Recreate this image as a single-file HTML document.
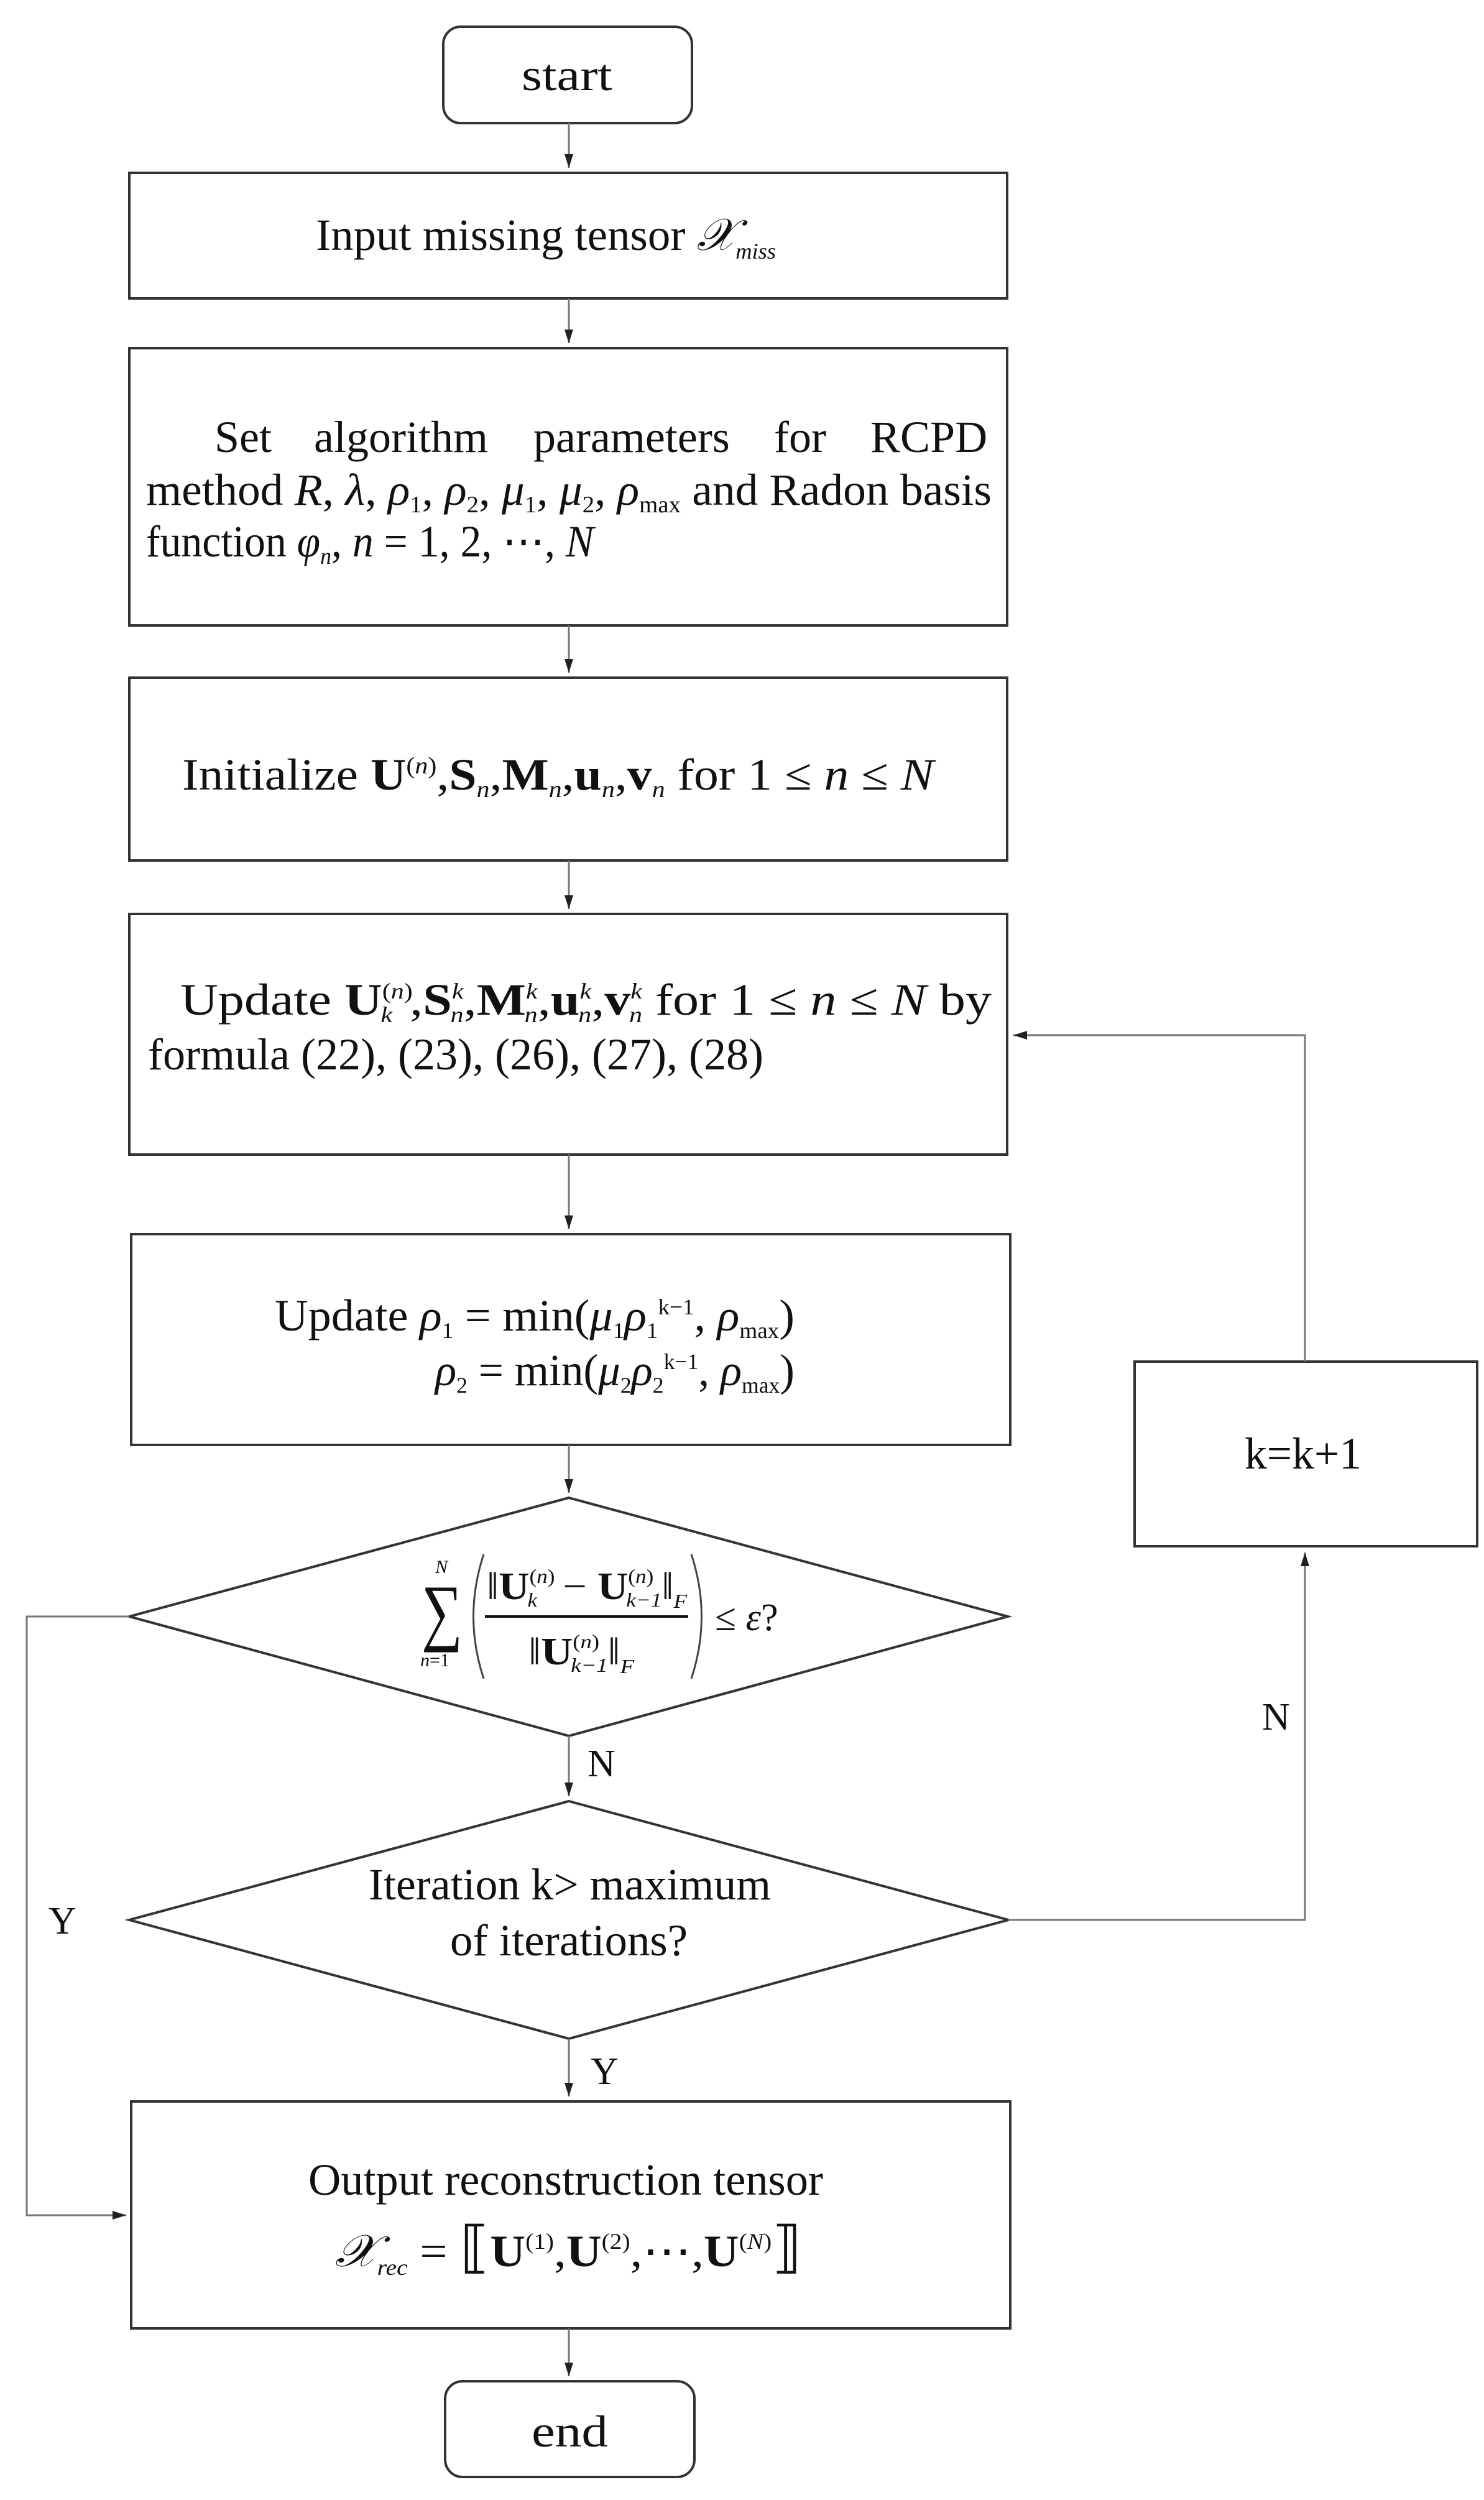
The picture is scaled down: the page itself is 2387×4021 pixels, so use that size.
<!DOCTYPE html>
<html><head><meta charset="utf-8"><style>
html,body{margin:0;padding:0;background:#fff;}
svg{display:block;}
text{font-family:"Liberation Serif",serif;fill:#111;}
.i{font-style:italic;}
.b{font-weight:bold;}
</style></head><body>
<svg width="2387" height="4021" viewBox="0 0 2387 4021" xmlns="http://www.w3.org/2000/svg">
<defs>
<marker id="h" markerWidth="24" markerHeight="20" refX="22" refY="10" orient="auto" markerUnits="userSpaceOnUse"><path d="M0,3 L22,10 L0,17 z" fill="#222"/></marker></defs>
<g fill="none" stroke="#333" stroke-width="4">
<rect x="713" y="43" width="400" height="155" rx="28"/>
<rect x="208" y="278" width="1412" height="202"/>
<rect x="208" y="560" width="1412" height="446"/>
<rect x="208" y="1090" width="1412" height="294"/>
<rect x="208" y="1470" width="1412" height="387"/>
<rect x="211" y="1985" width="1414" height="339"/>
<polygon points="915,2409 1621,2600 915,2792 208,2600"/>
<rect x="1825" y="2190" width="551" height="297"/>
<polygon points="915,2897 1622,3088 915,3279 208,3088"/>
<rect x="211" y="3380" width="1414" height="365"/>
<rect x="716" y="3830" width="401" height="154" rx="28"/>
</g>
<g fill="none" stroke="#777" stroke-width="3">
<line x1="915" y1="198" x2="915" y2="270" marker-end="url(#h)"/>
<line x1="915" y1="480" x2="915" y2="552" marker-end="url(#h)"/>
<line x1="915" y1="1006" x2="915" y2="1082" marker-end="url(#h)"/>
<line x1="915" y1="1384" x2="915" y2="1462" marker-end="url(#h)"/>
<line x1="915" y1="1857" x2="915" y2="1977" marker-end="url(#h)"/>
<line x1="915" y1="2324" x2="915" y2="2401" marker-end="url(#h)"/>
<line x1="915" y1="2792" x2="915" y2="2889" marker-end="url(#h)"/>
<line x1="915" y1="3279" x2="915" y2="3372" marker-end="url(#h)"/>
<line x1="915" y1="3745" x2="915" y2="3822" marker-end="url(#h)"/>
<polyline points="2099,2190 2099,1665 1630,1665" marker-end="url(#h)"/>
<polyline points="1622,3088 2099,3088 2099,2497" marker-end="url(#h)"/>
<polyline points="208,2600 43,2600 43,3563 203,3563" marker-end="url(#h)"/>
</g>
<g font-size="72">
<text x="839" y="145" textLength="146" lengthAdjust="spacingAndGlyphs">start</text>
<text x="855" y="3935" textLength="123" lengthAdjust="spacingAndGlyphs">end</text>
<text x="508" y="402" textLength="740" lengthAdjust="spacingAndGlyphs">Input missing tensor <tspan class="i" font-size="72">𝒳</tspan><tspan class="i" font-size="36" dy="14">miss</tspan></text>
<text x="345" y="727">Set</text>
<text x="505" y="727">algorithm</text>
<text x="858" y="727">parameters</text>
<text x="1245" y="727">for</text>
<text x="1400" y="727">RCPD</text>
<text x="235" y="812" textLength="1360" lengthAdjust="spacingAndGlyphs">method <tspan class="i">R</tspan>, <tspan class="i">λ</tspan>, <tspan class="i">ρ</tspan><tspan font-size="38" dy="12">1</tspan><tspan dy="-12">, </tspan><tspan class="i">ρ</tspan><tspan font-size="38" dy="12">2</tspan><tspan dy="-12">, </tspan><tspan class="i">μ</tspan><tspan font-size="38" dy="12">1</tspan><tspan dy="-12">, </tspan><tspan class="i">μ</tspan><tspan font-size="38" dy="12">2</tspan><tspan dy="-12">, </tspan><tspan class="i">ρ</tspan><tspan font-size="38" dy="12">max</tspan><tspan dy="-12"> and Radon basis</tspan></text>
<text x="235" y="895" textLength="720" lengthAdjust="spacingAndGlyphs">function <tspan class="i">φ</tspan><tspan class="i" font-size="38" dy="12">n</tspan><tspan dy="-12">, </tspan><tspan class="i">n</tspan> = 1, 2, ⋯, <tspan class="i">N</tspan></text>
<text x="293" y="1270" textLength="1209" lengthAdjust="spacingAndGlyphs">Initialize <tspan class="b">U</tspan><tspan font-size="38" dy="-26">(<tspan class="i">n</tspan>)</tspan><tspan dy="26">,</tspan><tspan class="b">S</tspan><tspan class="i" font-size="38" dy="12">n</tspan><tspan dy="-12">,</tspan><tspan class="b">M</tspan><tspan class="i" font-size="38" dy="12">n</tspan><tspan dy="-12">,</tspan><tspan class="b">u</tspan><tspan class="i" font-size="38" dy="12">n</tspan><tspan dy="-12">,</tspan><tspan class="b">v</tspan><tspan class="i" font-size="38" dy="12">n</tspan><tspan dy="-12">  for 1 ≤ </tspan><tspan class="i">n</tspan> ≤ <tspan class="i">N</tspan></text>
<text x="290" y="1632" textLength="1305" lengthAdjust="spacingAndGlyphs">Update <tspan class="b">U</tspan><tspan font-size="36" dy="-26">(<tspan class="i">n</tspan>)</tspan><tspan class="i" font-size="36" dx="-44" dy="38">k</tspan><tspan dx="24" dy="-12">,</tspan><tspan class="b">S</tspan><tspan class="i" font-size="36" dy="-26">k</tspan><tspan class="i" font-size="36" dx="-18" dy="38">n</tspan><tspan dy="-12">,</tspan><tspan class="b">M</tspan><tspan class="i" font-size="36" dy="-26">k</tspan><tspan class="i" font-size="36" dx="-18" dy="38">n</tspan><tspan dy="-12">,</tspan><tspan class="b">u</tspan><tspan class="i" font-size="36" dy="-26">k</tspan><tspan class="i" font-size="36" dx="-18" dy="38">n</tspan><tspan dy="-12">,</tspan><tspan class="b">v</tspan><tspan class="i" font-size="36" dy="-26">k</tspan><tspan class="i" font-size="36" dx="-18" dy="38">n</tspan><tspan dy="-12">   for  1 ≤ </tspan><tspan class="i">n</tspan> ≤ <tspan class="i">N</tspan>  by</text>
<text x="238" y="1720" textLength="990" lengthAdjust="spacingAndGlyphs">formula (22), (23), (26), (27), (28)</text>
<text x="442" y="2140" textLength="836" lengthAdjust="spacingAndGlyphs">Update   <tspan class="i">ρ</tspan><tspan font-size="36" dy="12">1</tspan><tspan dy="-12"> = min(</tspan><tspan class="i">μ</tspan><tspan font-size="36" dy="12">1</tspan><tspan class="i" dy="-12">ρ</tspan><tspan font-size="36" dy="12">1</tspan><tspan font-size="36" dy="-38">k−1</tspan><tspan dy="26">, </tspan><tspan class="i">ρ</tspan><tspan font-size="36" dy="12">max</tspan><tspan dy="-12">)</tspan></text>
<text x="700" y="2228" textLength="578" lengthAdjust="spacingAndGlyphs"><tspan class="i">ρ</tspan><tspan font-size="36" dy="12">2</tspan><tspan dy="-12"> = min(</tspan><tspan class="i">μ</tspan><tspan font-size="36" dy="12">2</tspan><tspan class="i" dy="-12">ρ</tspan><tspan font-size="36" dy="12">2</tspan><tspan font-size="36" dy="-38">k−1</tspan><tspan dy="26">, </tspan><tspan class="i">ρ</tspan><tspan font-size="36" dy="12">max</tspan><tspan dy="-12">)</tspan></text>
<text x="678" y="2632" font-size="120" textLength="66" lengthAdjust="spacingAndGlyphs">∑</text>
<text x="700" y="2530" font-size="30" class="i">N</text>
<text x="676" y="2680" font-size="30"><tspan class="i">n</tspan>=1</text>
<path d="M778,2500 Q745,2600 778,2700" fill="none" stroke="#444" stroke-width="3"/>
<path d="M1112,2500 Q1145,2600 1112,2700" fill="none" stroke="#444" stroke-width="3"/>
<line x1="780" y1="2600" x2="1107" y2="2600" stroke="#111" stroke-width="4"/>
<text x="783" y="2572" font-size="62" textLength="322" lengthAdjust="spacingAndGlyphs">‖<tspan class="b">U</tspan><tspan font-size="32" dy="-26">(<tspan class="i">n</tspan>)</tspan><tspan class="i" font-size="32" dx="-40" dy="38">k</tspan><tspan dx="22" dy="-12"> − </tspan><tspan class="b">U</tspan><tspan font-size="32" dy="-26">(<tspan class="i">n</tspan>)</tspan><tspan class="i" font-size="32" dx="-40" dy="38">k−1</tspan><tspan dy="-12">‖</tspan><tspan class="i" font-size="32" dy="14">F</tspan></text>
<text x="850" y="2677" font-size="62" textLength="170" lengthAdjust="spacingAndGlyphs">‖<tspan class="b">U</tspan><tspan font-size="32" dy="-26">(<tspan class="i">n</tspan>)</tspan><tspan class="i" font-size="32" dx="-40" dy="38">k−1</tspan><tspan dy="-12">‖</tspan><tspan class="i" font-size="32" dy="14">F</tspan></text>
<text x="1150" y="2622" font-size="62">≤ <tspan class="i">ε</tspan>?</text>
<text x="593" y="3055" textLength="647" lengthAdjust="spacingAndGlyphs">Iteration k&gt; maximum</text>
<text x="724" y="3145" textLength="382" lengthAdjust="spacingAndGlyphs">of iterations?</text>
<text x="2002" y="2362" textLength="188" lengthAdjust="spacingAndGlyphs">k=k+1</text>
<text x="945" y="2857" font-size="62">N</text>
<text x="2030" y="2782" font-size="62">N</text>
<text x="78" y="3110" font-size="62">Y</text>
<text x="950" y="3352" font-size="62">Y</text>
<text x="496" y="3530" textLength="828" lengthAdjust="spacingAndGlyphs">Output reconstruction tensor</text>
<text x="539" y="3645" textLength="751" lengthAdjust="spacingAndGlyphs"><tspan class="i">𝒳</tspan><tspan class="i" font-size="36" dy="14">rec</tspan><tspan dy="-14"> = </tspan><tspan font-size="90">⟦</tspan><tspan class="b">U</tspan><tspan font-size="36" dy="-28">(1)</tspan><tspan dy="28">,</tspan><tspan class="b">U</tspan><tspan font-size="36" dy="-28">(2)</tspan><tspan dy="28">,⋯,</tspan><tspan class="b">U</tspan><tspan font-size="36" dy="-28">(<tspan class="i">N</tspan>)</tspan><tspan font-size="90" dy="28">⟧</tspan></text>
</g>
</svg>
</body></html>
